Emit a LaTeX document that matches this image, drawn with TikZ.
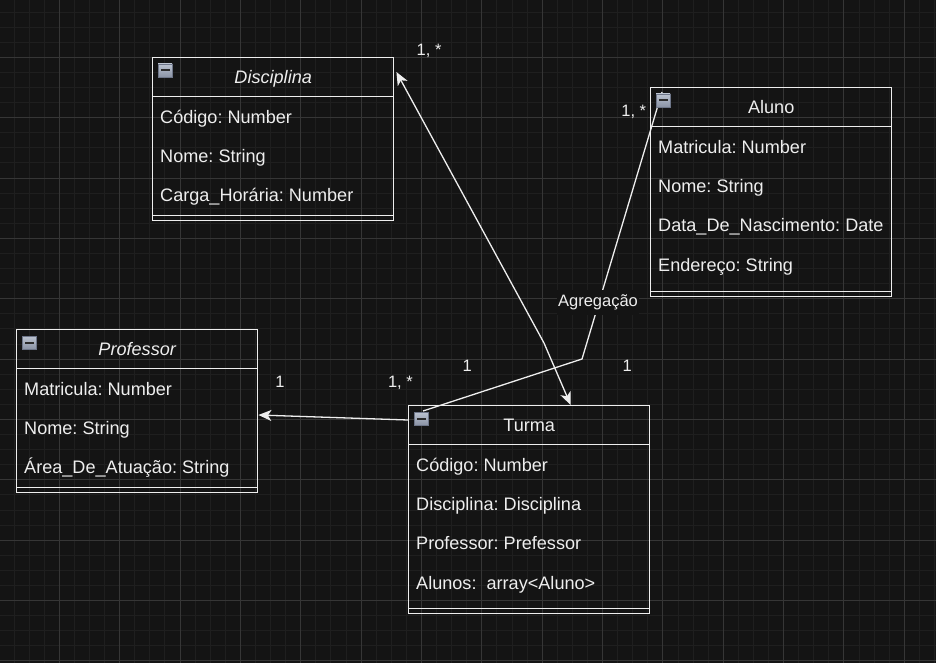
\documentclass[tikz,border=0pt]{standalone}
\usepackage{fontspec}
\setmainfont{Liberation Sans}
\usetikzlibrary{arrows.meta,calc}
\frenchspacing

\definecolor{canvas}{HTML}{141414}
\definecolor{minorgrid}{HTML}{1F1F1F}
\definecolor{majorgrid}{HTML}{363636}
\definecolor{ink}{HTML}{EEEEEE}
\definecolor{iconTop}{HTML}{BCC3D0}
\definecolor{iconBot}{HTML}{8A93A5}
\definecolor{iconEdge}{HTML}{6E7689}
\definecolor{iconBar}{HTML}{2B2B2B}

\begin{document}
\begin{tikzpicture}[x=1pt,y=-1pt,
  classbox/.style={draw=ink, line width=1.4pt, inner sep=0pt, anchor=north west,
                   minimum width=241pt},
  sep/.style={draw=ink, line width=1.4pt},
  title/.style={font=\fontsize{18.1}{21}\selectfont, text=ink, anchor=base, inner sep=0pt},
  attr/.style={font=\fontsize{18.1}{21}\selectfont, text=ink, anchor=base west, inner sep=0pt},
  mult/.style={font=\fontsize{16.5}{19}\selectfont, text=ink, anchor=base west, inner sep=0pt},
  link/.style={draw=ink, line width=1.3pt},
  umlhead/.tip={Stealth[length=13pt,width=11pt,inset=3.5pt]},
  collapse/.style={draw=iconEdge, line width=0.6pt, top color=iconTop, bottom color=iconBot,
                   minimum width=14pt, minimum height=13pt, inner sep=0pt},
  collapsebtn/.pic={
    \node[collapse] {};
    \fill[iconBar] (-4.5,-1) rectangle (4.5,1);
  }
]

% page and grid
\useasboundingbox (0,0) rectangle (936,663);
\fill[canvas] (0,0) rectangle (936,663);
\foreach \i in {0,...,62}
  \draw[minorgrid, line width=1pt] ({-1.06+15.09*\i},0) -- ++(0,663);
\foreach \i in {0,...,44}
  \draw[minorgrid, line width=1pt] (0,{-3.06+15.09*\i}) -- ++(936,0);
\foreach \i in {0,...,15}
  \draw[majorgrid, line width=1pt] ({-1.06+60.36*\i},0) -- ++(0,663);
\foreach \i in {0,...,11}
  \draw[majorgrid, line width=1pt] (0,{-3.06+60.36*\i}) -- ++(936,0);

% class boxes
\node[classbox, minimum height=163pt] (disc) at (152,57) {};
\node[classbox, minimum height=209pt] (alu)  at (650,87) {};
\node[classbox, minimum height=163pt] (prof) at (16,329) {};
\node[classbox, minimum height=208pt] (tur)  at (408,405) {};

% header and footer separators
\foreach \b in {disc,alu,prof,tur}{
  \draw[sep] ([yshift=-39.5pt]\b.north west) -- ([yshift=-39.5pt]\b.north east);
  \draw[sep] ([yshift=6pt]\b.south west) -- ([yshift=6pt]\b.south east);
}

% class names
\node[title, font=\fontsize{18.1}{21}\selectfont\itshape] (disc-t) at ([yshift=-26.5pt]disc.north) {Disciplina};
\node[title] (alu-t)  at ([yshift=-26.5pt]alu.north) {Aluno};
\node[title, font=\fontsize{18.1}{21}\selectfont\itshape] (prof-t) at ([yshift=-26.5pt]prof.north) {Professor};
\node[title] (tur-t)  at ([yshift=-26.5pt]tur.north) {Turma};

% attributes
\foreach \t [count=\i] in {Código: Number, Nome: String, Carga\_Horária: Number}
  \node[attr] (disc-\i) at ([shift={(8,{66.1+39.3*(\i-1)})}]disc.north west) {\t};
\foreach \t [count=\i] in {Matricula: Number, Nome: String, Data\_De\_Nascimento: Date, Endereço: String}
  \node[attr] (alu-\i) at ([shift={(8,{66.1+39.3*(\i-1)})}]alu.north west) {\t};
\foreach \t [count=\i] in {Matricula: Number, Nome: String, Área\_De\_Atuação: String}
  \node[attr] (prof-\i) at ([shift={(8,{66.1+39.3*(\i-1)})}]prof.north west) {\t};
\foreach \t [count=\i] in {Código: Number, Disciplina: Disciplina, Professor: Prefessor, Alunos:\ \ array<Aluno>}
  \node[attr] (tur-\i) at ([shift={(8,{66.1+39.3*(\i-1)})}]tur.north west) {\t};

% connectors
\coordinate (bendA) at (544,343);
\coordinate (bendB) at (582,359);
\draw[link, umlhead-umlhead] ([xshift=41.5pt]tur.north) -- (bendA) -- ([shift={(2,15)}]disc.north east);
\draw[link, -umlhead] ([yshift=-15pt]tur.north west) -- ([yshift=-86pt]prof.north east);
\draw[link] ([shift={(15,6)}]tur.north west) -- (bendB) -- ([shift={(12,5)}]alu.north west);

% collapse buttons
\foreach \b in {disc,alu,prof,tur}
  \pic at ([shift={(13,13.5)}]\b.north west) {collapsebtn};

% connector labels
\node[title, font=\fontsize{16.5}{19}\selectfont, fill=canvas, inner xsep=1pt, inner ysep=5pt] (agg) at (598,306.7) {Agregação};
\node[mult] (m1) at (416.5,55.7)  {1, *};
\node[mult] (m2) at (621.2,116.7) {1, *};
\node[mult] (m3) at (275.2,387.3) {1};
\node[mult] (m4) at (387.8,387.3) {1, *};
\node[mult] (m5) at (462.5,371.7) {1};
\node[mult] (m6) at (622.5,371.7) {1};

\end{tikzpicture}
\end{document}
